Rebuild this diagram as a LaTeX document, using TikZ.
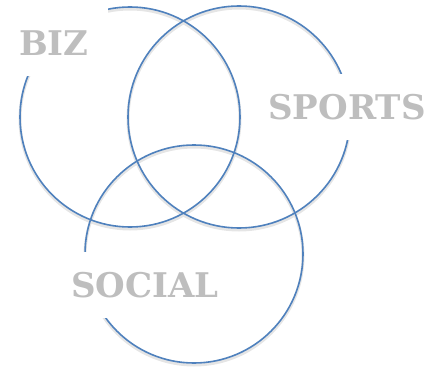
\documentclass[tikz,border=0pt]{standalone}
\usepackage{fontspec}
\setmainfont{DejaVu Serif}
\usetikzlibrary{positioning}
\definecolor{ringblue}{RGB}{79,129,189}
\definecolor{labelgray}{RGB}{190,190,190}
\begin{document}
\begin{tikzpicture}[x=1pt,y=-1pt,
    ring/.style={draw=ringblue,line width=1.6pt},
    shade/.style={draw=black!10,line width=3pt},
    lbl/.style={fill=white,text=labelgray,font=\bfseries\fontsize{34}{34}\selectfont,inner sep=0pt,minimum height=66pt}]
    \useasboundingbox (0,0) rectangle (429,369);
    % shadows
    \draw[shade] (130,119) circle (110);
    \draw[shade] (239,119) circle (111);
    \draw[shade] (194,256) circle (109);
    % rings
    \draw[ring] (130,117) circle (110);
    \draw[ring] (239,117) circle (111);
    \draw[ring] (194,254) circle (109);
    % labels
    \node (bizbg) [fill=white,minimum width=108pt,minimum height=76pt,inner sep=0pt] at (54,38) {};
    \node (biz) [lbl,fill=none,minimum height=0pt] at (54,43) {BIZ};
    \node (spo) [lbl,minimum width=164pt] at (347,107) {SPORTS};
    \node (soc) [lbl,minimum width=170pt] at (145,285) {SOCIAL};
\end{tikzpicture}
\end{document}
